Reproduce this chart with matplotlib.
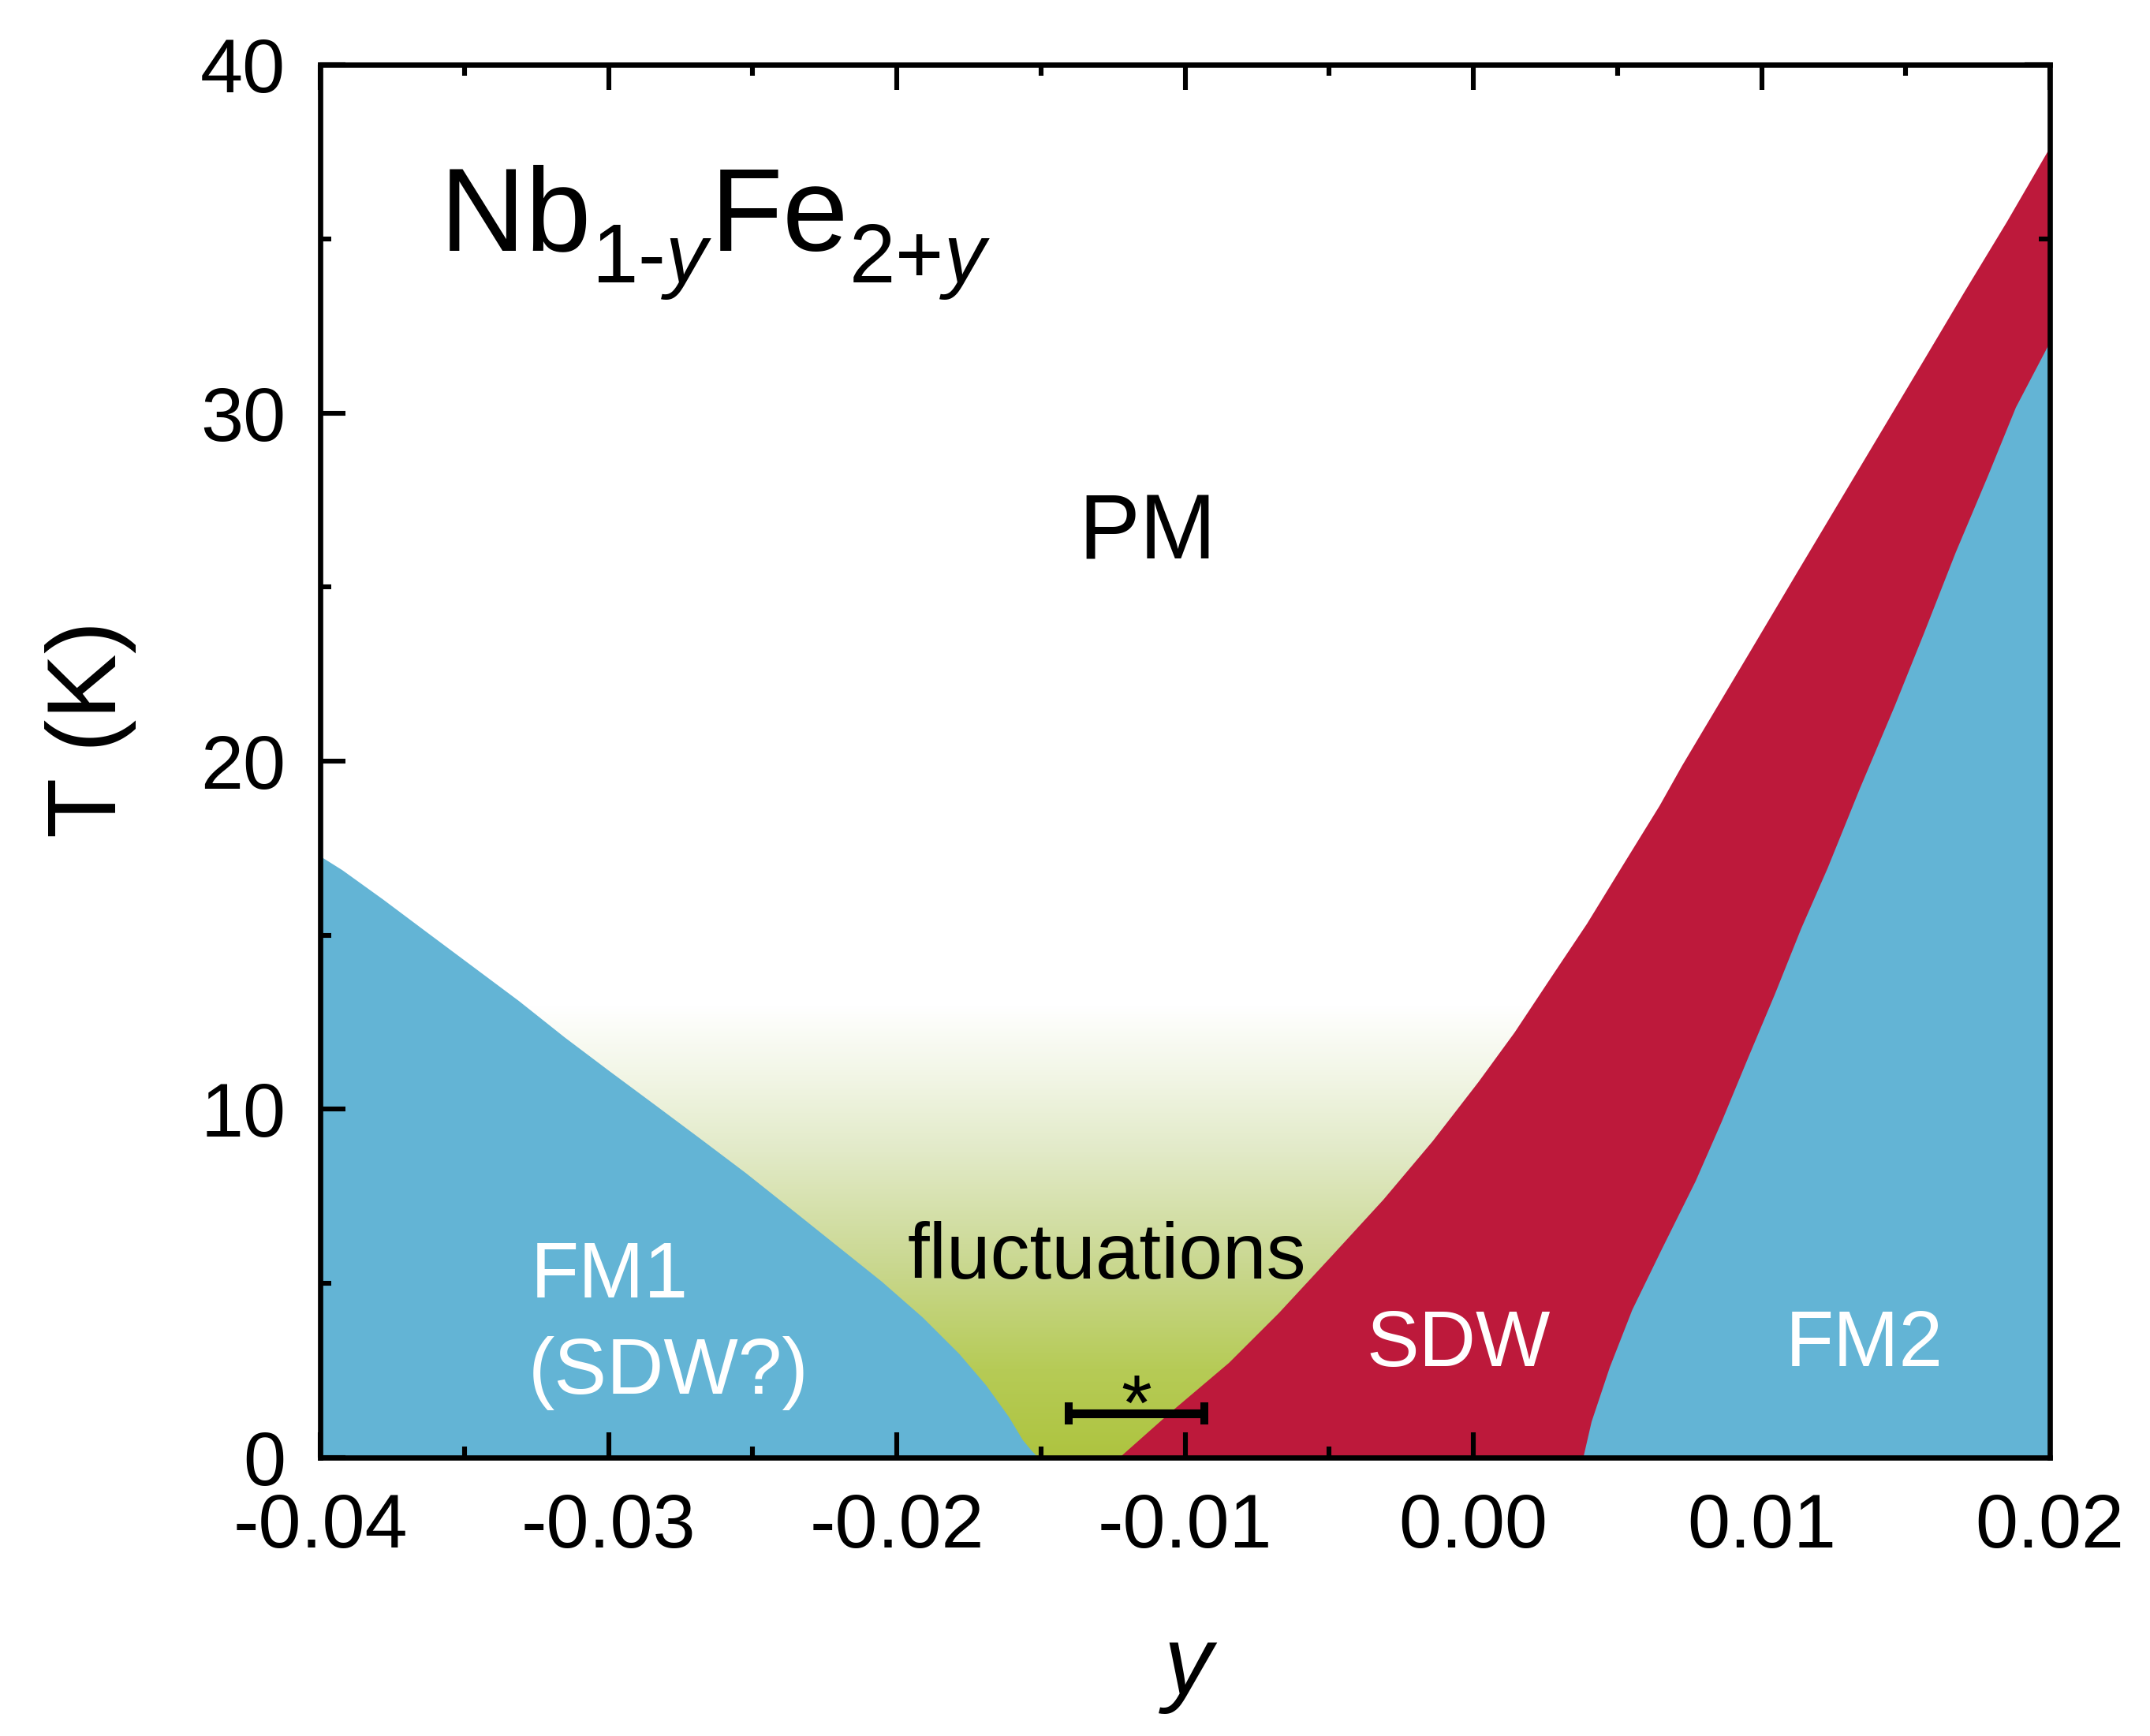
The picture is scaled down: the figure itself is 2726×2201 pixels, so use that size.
import numpy as np
import matplotlib
matplotlib.use("Agg")
import matplotlib.pyplot as plt
from matplotlib.colors import LinearSegmentedColormap
from matplotlib.ticker import MultipleLocator, FixedLocator

try:
    import matplotlib._mathtext as _mt
    _mt.FontConstantsBase.sub1 = 0.5
except Exception:
    pass

plt.rcParams['font.family'] = ['Liberation Sans', 'DejaVu Sans']
plt.rcParams['mathtext.fontset'] = 'custom'
plt.rcParams['mathtext.rm'] = 'Liberation Sans'
plt.rcParams['mathtext.it'] = 'Liberation Sans:italic'
plt.rcParams['mathtext.bf'] = 'Liberation Sans:bold'

# ---- data ----
# FM1 phase boundary (y, T)
fm1_y = [-0.0400, -0.03925, -0.03784, -0.03626, -0.03469, -0.03312, -0.03154,
         -0.02997, -0.02839, -0.02682, -0.02525, -0.02367, -0.02210, -0.02053,
         -0.01911, -0.01785, -0.01691, -0.01612, -0.01565, -0.01535, -0.01510]
fm1_T = [17.27, 16.88, 16.04, 15.06, 14.09, 13.12, 12.08,
         11.10, 10.13, 9.16, 8.18, 7.14, 6.10, 5.06,
         4.03, 2.99, 2.08, 1.17, 0.52, 0.22, 0.0]
# PM / SDW boundary
sdw_y = [-0.01230, -0.01053, -0.00849, -0.00676, -0.00487, -0.00314, -0.00142,
         0.00016, 0.00142, 0.00267, 0.00393, 0.00519, 0.00645, 0.00723,
         0.00800, 0.00960, 0.01120, 0.01270, 0.01420, 0.01560, 0.01700,
         0.01850, 0.02000]
sdw_T = [0.0, 1.30, 2.73, 4.16, 5.85, 7.41, 9.10,
         10.79, 12.22, 13.78, 15.34, 17.04, 18.73, 19.88,
         20.95, 23.17, 25.40, 27.48, 29.56, 31.50, 33.45,
         35.50, 37.64]
# SDW / FM2 boundary
fm2_y = [0.00380, 0.00409, 0.00472, 0.00550, 0.00650, 0.00770, 0.00860,
         0.00950, 0.01045, 0.01136, 0.01228, 0.01339, 0.01461, 0.01562,
         0.01672, 0.01784, 0.01881, 0.02000]
fm2_T = [0.0, 1.04, 2.60, 4.25, 5.95, 7.95, 9.65,
         11.45, 13.32, 15.20, 16.94, 19.21, 21.60, 23.68,
         26.00, 28.20, 30.17, 32.05]
# fluctuation-region colour gradient (T stops, colours)
grad_T = [0.0, 2.5, 5.6, 8.8, 11.0, 13.0]
grad_colors = ['#aec440', '#b6cb56', '#cad891', '#e2eac8', '#f2f6e6', '#ffffff']
# error bar marked with *
bar_y = [-0.01168]
bar_T = [1.27]
bar_xerr = [0.00236]

xticks = [-0.04, -0.03, -0.02, -0.01, 0.00, 0.01, 0.02]
xtick_labels = ['-0.04', '-0.03', '-0.02', '-0.01', '0.00', '0.01', '0.02']
yticks = [0, 10, 20, 30, 40]
ytick_labels = ['0', '10', '20', '30', '40']

BLUE = '#63b4d5'
RED = '#bd193b'

fig = plt.figure(figsize=(13.63, 11.005), dpi=200)
ax = fig.add_axes([0.149, 0.1604, 0.9534 - 0.149, 0.9627 - 0.1604])
ax.set_xlim(-0.04, 0.02)
ax.set_ylim(0, 40)

# gradient (fluctuations)
gmax = grad_T[-1]
cmap = LinearSegmentedColormap.from_list(
    'fluct', [(t / gmax, c) for t, c in zip(grad_T, grad_colors)])
grad = np.linspace(0, 1, 512).reshape(-1, 1)
ax.imshow(grad, cmap=cmap, origin='lower', aspect='auto',
          extent=[-0.04, 0.02, 0, gmax], zorder=0, interpolation='bilinear')

ax.fill_between(fm1_y, 0, fm1_T, color=BLUE, lw=0, zorder=1)
ax.fill_between(sdw_y, 0, sdw_T, color=RED, lw=0, zorder=1)
ax.fill_between(fm2_y, 0, fm2_T, color=BLUE, lw=0, zorder=2)

ax.errorbar(bar_y, bar_T, xerr=bar_xerr, fmt='none', ecolor='black',
            elinewidth=4, capsize=4.9, capthick=3.6, zorder=4)
ax.text(bar_y[0], 0.8, '*', fontsize=36, ha='center', va='baseline', zorder=5)

# labels
ax.text(-0.03587, 34.63, r'Nb$_{\text{1-}y}$Fe$_{\text{2+}y}$', fontsize=54,
        ha='left', va='baseline', zorder=5)
ax.text(-0.01131, 25.8, 'PM', fontsize=42, ha='center', va='baseline', zorder=5)
ax.text(-0.01272, 5.14, 'fluctuations', fontsize=36, ha='center', va='baseline', zorder=5)
ax.text(-0.03270, 4.60, 'FM1', fontsize=36, color='white', ha='left', va='baseline', zorder=5)
ax.text(-0.03280, 1.84, '(SDW?)', fontsize=36, color='white', ha='left', va='baseline', zorder=5)
ax.text(-0.00052, 2.62, 'SDW', fontsize=36, color='white', ha='center', va='baseline', zorder=5)
ax.text(0.01357, 2.62, 'FM2', fontsize=36, color='white', ha='center', va='baseline', zorder=5)

# axes styling
for s in ax.spines.values():
    s.set_linewidth(2.4)
ax.xaxis.set_major_locator(FixedLocator(xticks))
ax.set_xticklabels(xtick_labels)
ax.xaxis.set_minor_locator(MultipleLocator(0.005))
ax.yaxis.set_major_locator(FixedLocator(yticks))
ax.set_yticklabels(ytick_labels)
ax.yaxis.set_minor_locator(MultipleLocator(5))
ax.tick_params(which='both', direction='in', top=True, right=True,
               labelsize=35, pad=15.8)
ax.tick_params(which='major', length=11.5, width=2.2)
ax.tick_params(which='minor', length=5.0, width=2.2)

ax.set_xlabel('y', fontsize=44, style='italic')
ax.xaxis.label.set_va('baseline')
ax.xaxis.set_label_coords(0.502, -0.170)
ax.set_ylabel('T (K)', fontsize=45)
ax.yaxis.label.set_va('center')
ax.yaxis.set_label_coords(-0.133, 0.523)

fig.savefig('out.png', dpi=200)
